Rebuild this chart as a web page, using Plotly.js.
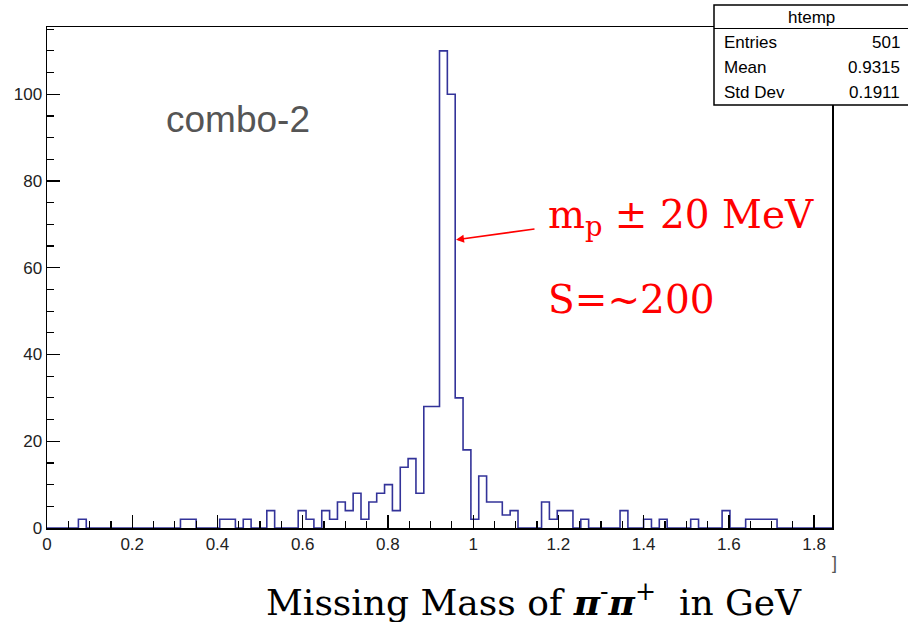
<!DOCTYPE html>
<html>
<head>
<meta charset="utf-8">
<script src="https://cdn.plot.ly/plotly-3.0.1.min.js"></script>
<style>
html,body{margin:0;padding:0;background:#fff;}
#chart{width:908px;height:622px;}
</style>
</head>
<body>
<div id="chart"></div>
<script>
// ---- data ----
const histName = "htemp";
const nBins = 100;
const xMin = 0;
const xMax = 1.842;
// counts per bin (bin k covers [xMin + k*w, xMin + (k+1)*w])
const counts = [
  0,0,0,0,2,0,0,0,0,0,
  0,0,0,0,0,0,0,2,2,0,
  0,0,2,2,0,2,0,0,4,0,
  0,0,4,2,0,4,2,6,4,8,
  2,6,8,10,4,14,16,8,28,28,
  110,100,30,18,2,12,6,6,3,4,
  0,0,0,6,2,4,4,0,2,0,
  0,0,0,4,0,0,2,0,2,0,
  0,0,2,0,0,0,4,0,0,2,
  2,2,2,0,0,0,0,0,0,0
];
const statsLabels = ["Entries", "Mean", "Std Dev"];
const statsValues = ["501", "0.9315", "0.1911"];
const xTickVals = [0, 0.2, 0.4, 0.6, 0.8, 1, 1.2, 1.4, 1.6, 1.8];
const xTickText = ["0", "0.2", "0.4", "0.6", "0.8", "1", "1.2", "1.4", "1.6", "1.8"];
const yTickVals = [0, 20, 40, 60, 80, 100];
const yTickText = ["0", "20", "40", "60", "80", "100"];
const labelText = "combo-2";
const noteLine1 = "m<sub>p</sub> ± 20 MeV";
const noteLine2 = "S=~200";
const xTitle = "Missing Mass of <b><i>π</i></b><sup>-</sup><b><i>π</i></b><sup>+</sup>  in GeV";

// ---- build step outline from bins ----
const w = (xMax - xMin) / nBins;
const stepX = [], stepY = [];
for (let k = 0; k < nBins; k++) { stepX.push(xMin + k * w); stepY.push(counts[k]); }
stepX.push(xMax); stepY.push(counts[nBins - 1]);

// ---- layout geometry (pixels) ----
const W = 908, H = 622;
const L = 47, R = 832, T = 27, B = 528.5;
const px = v => (v - L) / (R - L);
const py = v => (B - v) / (B - T);

const sansFont = "Liberation Sans, Arial, Helvetica, sans-serif";
const serifFont = "DejaVu Serif, Liberation Serif, serif";

const trace = {
  type: "scatter",
  mode: "lines",
  x: stepX,
  y: stepY,
  line: {shape: "hv", color: "#333399", width: 1.6},
  hoverinfo: "skip",
  showlegend: false,
  name: histName
};

const annotations = [
  {xref:"paper", yref:"paper", x:px(238), y:py(120), text:labelText, showarrow:false,
   font:{family:sansFont, size:37, color:"#555555"}, xanchor:"center", yanchor:"middle"},
  {xref:"paper", yref:"paper", x:px(546), y:py(217), text:noteLine1, showarrow:false,
   font:{family:serifFont, size:39, color:"#ff0000"}, xanchor:"left", yanchor:"middle"},
  {xref:"paper", yref:"paper", x:px(546), y:py(300), text:noteLine2, showarrow:false,
   font:{family:serifFont, size:39, color:"#ff0000"}, xanchor:"left", yanchor:"middle"},
  {xref:"paper", yref:"paper", x:px(456), y:py(240), ax:80, ay:-11, text:"", showarrow:true,
   arrowhead:2, arrowsize:1, arrowwidth:1.6, arrowcolor:"#ff0000"},
  {xref:"paper", yref:"paper", x:px(534), y:py(601), text:xTitle, showarrow:false,
   font:{family:serifFont, size:36, color:"#000000"}, xanchor:"center", yanchor:"middle"},
  {xref:"paper", yref:"paper", x:px(834), y:py(564), text:"]", showarrow:false,
   font:{family:sansFont, size:18, color:"#555555"}, xanchor:"center", yanchor:"middle"},
  // stats box text
  {xref:"paper", yref:"paper", x:px(811), y:py(17), text:histName, showarrow:false,
   font:{family:sansFont, size:17, color:"#000"}, xanchor:"center", yanchor:"middle"}
];
for (let i = 0; i < statsLabels.length; i++) {
  const yy = 43 + i * 25;
  annotations.push({xref:"paper", yref:"paper", x:px(722), y:py(yy), text:statsLabels[i], showarrow:false,
    font:{family:sansFont, size:17, color:"#000"}, xanchor:"left", yanchor:"middle"});
  annotations.push({xref:"paper", yref:"paper", x:px(902), y:py(yy), text:statsValues[i], showarrow:false,
    font:{family:sansFont, size:17, color:"#000"}, xanchor:"right", yanchor:"middle"});
}

const shapes = [
  {type:"rect", xref:"paper", yref:"paper", x0:px(714), x1:px(915), y0:py(105), y1:py(5),
   line:{color:"#000", width:1.5}, fillcolor:"#ffffff", layer:"above"},
  {type:"line", xref:"paper", yref:"paper", x0:px(714), x1:px(915), y0:py(28.5), y1:py(28.5),
   line:{color:"#000", width:1.2}, layer:"above"}
];

const layout = {
  width: W, height: H,
  margin: {l: L, r: W - R, t: T, b: H - B, pad: 0},
  paper_bgcolor: "#ffffff",
  plot_bgcolor: "#ffffff",
  showlegend: false,
  xaxis: {
    range: [xMin, xMax],
    tickmode: "array", tickvals: xTickVals, ticktext: xTickText,
    ticks: "inside", ticklen: 13, tickwidth: 1.3, tickcolor: "#000",
    minor: {dtick: 0.05, tick0: 0, ticks: "inside", ticklen: 7, tickwidth: 1.2, tickcolor: "#000"},
    showline: true, mirror: true, linecolor: "#000", linewidth: 1.5,
    showgrid: false, zeroline: false,
    tickfont: {family: sansFont, size: 17, color: "#222"},
    fixedrange: true
  },
  yaxis: {
    range: [0, 115.5],
    tickmode: "array", tickvals: yTickVals, ticktext: yTickText,
    ticks: "inside", ticklen: 13, tickwidth: 1.3, tickcolor: "#000",
    minor: {dtick: 5, tick0: 0, ticks: "inside", ticklen: 7, tickwidth: 1.2, tickcolor: "#000"},
    showline: true, mirror: true, linecolor: "#000", linewidth: 1.5,
    showgrid: false, zeroline: false,
    tickfont: {family: sansFont, size: 17, color: "#222"},
    fixedrange: true
  },
  annotations: annotations,
  shapes: shapes
};

Plotly.newPlot("chart", [trace], layout, {displayModeBar: false, staticPlot: true});
</script>
</body>
</html>
